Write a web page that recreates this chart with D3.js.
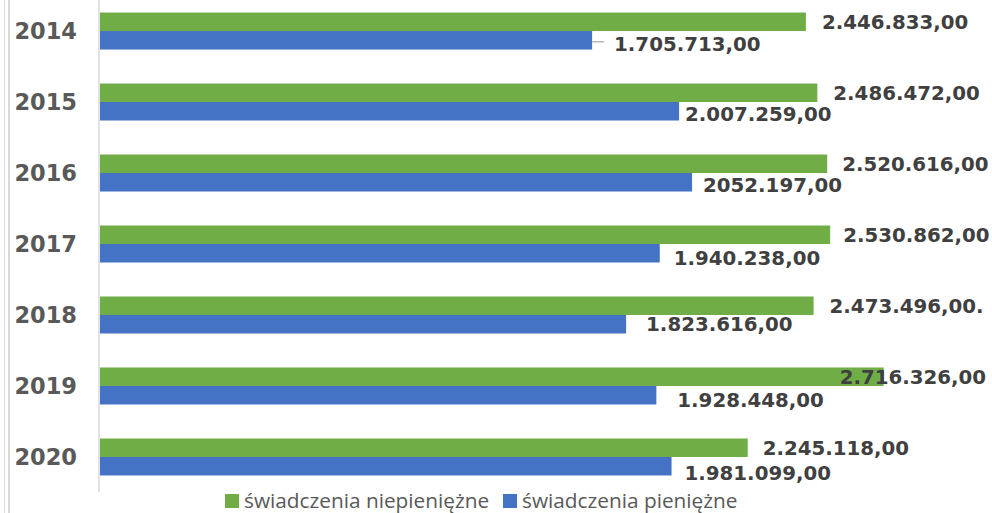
<!DOCTYPE html>
<html>
<head>
<meta charset="utf-8">
<script src="https://cdn.jsdelivr.net/npm/d3@7"></script>
<style>
  html, body { margin: 0; padding: 0; background: #ffffff; }
  svg { display: block; }
</style>
</head>
<body>
<svg id="chart" width="992" height="513"></svg>
<script>
// ---- data ----
const years = ["2014", "2015", "2016", "2017", "2018", "2019", "2020"];
const seriesNames = ["świadczenia niepieniężne", "świadczenia pieniężne"];
const nonCash = [2446833, 2486472, 2520616, 2530862, 2473496, 2716326, 2245118];
const cash = [1705713, 2007259, 2052197, 1940238, 1823616, 1928448, 1981099];
const nonCashLabels = ["2.446.833,00", "2.486.472,00", "2.520.616,00", "2.530.862,00", "2.473.496,00.", "2.716.326,00", "2.245.118,00"];
const cashLabels = ["1.705.713,00", "2.007.259,00", "2052.197,00", "1.940.238,00", "1.823.616,00", "1.928.448,00", "1.981.099,00"];

// ---- layout / style (manual label nudges as in the original) ----
const colors = ["#70AD47", "#4472C4"];
const nonCashDx = [16, 16, 15, 13, 16, -44, 15];
const nonCashDy = [0.5, 0, 0, 0, 0, 0, 0];
const cashDx = [22, 6, 11, 14, 20, 21, 13];
const cashDy = [3.5, 2.5, 2.5, 5, 0, 5, 7];

const svg = d3.select("#chart");

const x = d3.scaleLinear().domain([0, 3000000]).range([100, 965.5]);
const y = d3.scaleBand().domain(years).range([-4.5, 492.5]).paddingInner(0.479).paddingOuter(0.24);
const ySub = d3.scaleBand().domain([0, 1]).range([0, y.bandwidth()]);

// outer left frame lines
svg.append("line").attr("x1", 4.5).attr("x2", 4.5).attr("y1", 0).attr("y2", 513)
  .attr("stroke", "#d9d9d9").attr("stroke-width", 1);
svg.append("line").attr("x1", 9).attr("x2", 9).attr("y1", 0).attr("y2", 513)
  .attr("stroke", "#d9d9d9").attr("stroke-width", 2);

// category axis
const yAxis = d3.axisLeft(y).tickSize(0).tickPadding(0);
const gAxis = svg.append("g").attr("transform", "translate(99,0)").call(yAxis);
gAxis.select(".domain").attr("stroke", "#d9d9d9").attr("stroke-width", 1.5)
  .attr("d", "M0,0V492");
gAxis.selectAll(".tick text")
  .attr("x", -22)
  .attr("dy", "0.36em")
  .attr("font-family", "DejaVu Sans")
  .attr("font-weight", "bold")
  .attr("font-size", "22.5px")
  .attr("fill", "#595959")
  .attr("text-anchor", "end");

// bars
const series = [nonCash, cash];
series.forEach((vals, si) => {
  svg.append("g").selectAll("rect").data(vals).join("rect")
    .attr("x", x(0))
    .attr("y", (d, i) => y(years[i]) + ySub(si))
    .attr("width", d => x(d) - x(0))
    .attr("height", ySub.bandwidth())
    .attr("fill", colors[si]);
});

// labels
const labelFont = { family: "DejaVu Sans", size: "19.8px", fill: "#404040" };
function addLabels(vals, texts, si, dxs, dys) {
  svg.append("g").selectAll("text").data(vals).join("text")
    .attr("x", (d, i) => x(d) + dxs[i])
    .attr("y", (d, i) => y(years[i]) + ySub(si) + ySub.bandwidth() / 2 + dys[i] + 7.2)
    .attr("font-family", labelFont.family)
    .attr("font-weight", "bold")
    .attr("font-size", labelFont.size)
    .attr("fill", labelFont.fill)
    .text((d, i) => texts[i]);
}
addLabels(nonCash, nonCashLabels, 0, nonCashDx, nonCashDy);
addLabels(cash, cashLabels, 1, cashDx, cashDy);

// leader line for 2014 cash label
svg.append("line")
  .attr("x1", x(cash[0])).attr("x2", x(cash[0]) + 12)
  .attr("y1", y(years[0]) + ySub(1) + ySub.bandwidth() / 2 + 1.5)
  .attr("y2", y(years[0]) + ySub(1) + ySub.bandwidth() / 2 + 1.5)
  .attr("stroke", "#a6a6a6").attr("stroke-width", 1.2);

// legend
const legend = svg.append("g");
const legendX = [225, 503];
seriesNames.forEach((name, i) => {
  legend.append("rect").attr("x", legendX[i]).attr("y", 494).attr("width", 14).attr("height", 14)
    .attr("fill", colors[i]);
  legend.append("text").attr("x", legendX[i] + 19).attr("y", 508)
    .attr("font-family", "Open Sans")
    .attr("font-size", "20.8px")
    .attr("fill", "#595959")
    .text(name);
});
</script>
</body>
</html>
